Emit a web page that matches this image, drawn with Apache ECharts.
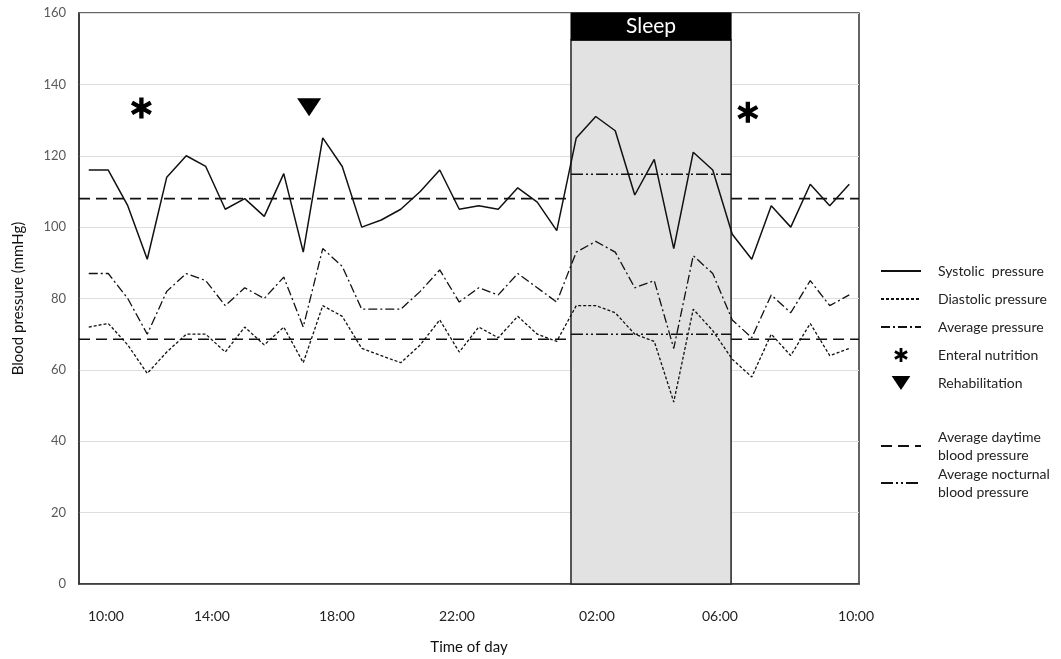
<!DOCTYPE html>
<html><head><meta charset="utf-8">
<script src="https://cdn.jsdelivr.net/npm/echarts@6/dist/echarts.min.js"></script>
<style>html,body{margin:0;padding:0;background:#fff}#c{width:1061px;height:659px}</style>
</head><body><div id="c"></div>
<script>
// ---- data ----
const systolic  = [116,116,106,91,114,120,117,105,108,103, 115,93,125,117,100,102,105,110,116,105, 106,105,111,107,99,125,131,127,109,119, 94,121,116,98,91,106,100,112,106,112];
const diastolic = [72,73,67,59,65,70,70,65,72,67, 72,62,78,75,66,64,62,67,74,65, 72,69,75,70,68,78,78,76,70,68, 51,77,71,63,58,70,64,73,64,66];
const average   = [87,87,80,70,82,87,85,78,83,80, 86,72,94,89,77,77,77,82,88,79, 83,81,87,83,79,93,96,93,83,85, 66,92,87,74,69,81,76,85,78,81];
const tickLabels    = ['10:00','14:00','18:00','22:00','02:00','06:00','10:00'];
const tickPositions = [0.88, 6.32, 12.73, 18.88, 26.06, 32.37, 39.35];
const sleepStart = 24.73, sleepEnd = 32.94;
const sleepHeaderFrom = 152.4;
const daySys = 108, dayDia = 68.6;
const nightSys = 114.8, nightDia = 70;
const enteral = [[2.7, 133.4], [33.8, 132.2]];
const rehab = [[11.3, 133.6]];
const xMin = -0.5, xMax = 39.5;

const FONT = 'Lato';
const asterisk = 'path://M-2,-10 L2,-10 L2,10 L-2,10 Z M7.66,-6.73 L9.66,-3.27 L-7.66,6.73 L-9.66,3.27 Z M9.66,3.27 L7.66,6.73 L-9.66,-3.27 L-7.66,-6.73 Z';
const triDown = 'path://M0,0 L12,0 L6,9 Z';

const NAME_SYS = 'Systolic  pressure';
const NAME_DIA = 'Diastolic pressure';
const NAME_AVG = 'Average pressure';
const NAME_ENT = 'Enteral nutrition';
const NAME_REH = 'Rehabilitation';
const NAME_DAY = 'Average daytime\nblood pressure';
const NAME_NIGHT = 'Average nocturnal\nblood pressure';

const toXY = arr => arr.map((v, i) => [i, v]);
const seg = (x0, x1, v) => [[x0, v], [x1, v]];

const dayStyle = {color: '#111', width: 1.6, type: [11, 6]};
const nightStyle = {color: '#111', width: 1.4, type: [12, 3, 2, 3, 2, 3]};

function refLine(name, data, style) {
  return {name, type: 'line', data, symbol: 'none', lineStyle: style, itemStyle: {color: '#111'}, z: 3, silent: true};
}
const noSym = {opacity: 0};

const option = {
  animation: false,
  backgroundColor: '#fff',
  textStyle: {fontFamily: FONT},
  grid: {left: 79, right: 202, top: 13, bottom: 75, outerBoundsMode: 'none', containLabel: false,
         show: true, borderColor: '#333', borderWidth: 1.5, backgroundColor: 'transparent'},
  xAxis: {
    type: 'value', min: xMin, max: xMax,
    name: 'Time of day', nameLocation: 'middle', nameGap: 56,
    nameTextStyle: {fontSize: 15, color: '#111', fontFamily: FONT},
    axisLine: {show: true, onZero: false, lineStyle: {color: '#333', width: 1.5}},
    axisTick: {show: false},
    splitLine: {show: false},
    axisLabel: {
      customValues: tickPositions, margin: 25, fontSize: 14, color: '#222', fontFamily: FONT,
      formatter: (v) => { const i = tickPositions.indexOf(v); return i >= 0 ? tickLabels[i] : ''; }
    }
  },
  yAxis: {
    type: 'value', min: 0, max: 160, interval: 20,
    name: 'Blood pressure (mmHg)', nameLocation: 'middle', nameGap: 53,
    nameTextStyle: {fontSize: 15, color: '#111', fontFamily: FONT},
    axisLine: {show: true, onZero: false, lineStyle: {color: '#333', width: 1.5}},
    axisTick: {show: false},
    splitLine: {lineStyle: {color: '#dedede', width: 1}},
    axisLabel: {fontSize: 13, color: '#595959', margin: 13, fontFamily: FONT}
  },
  legend: [
    {
      orient: 'vertical', left: 880, top: 264, padding: 0, itemWidth: 40, itemHeight: 14, itemGap: 14,
      symbolKeepAspect: true,
      textStyle: {fontSize: 14, color: '#222', fontFamily: FONT, padding: [0, 0, 0, 12]},
      data: [
        {name: NAME_SYS, itemStyle: noSym}, {name: NAME_DIA, itemStyle: noSym}, {name: NAME_AVG, itemStyle: noSym},
        {name: NAME_ENT, icon: asterisk}, {name: NAME_REH, icon: triDown}
      ]
    },
    {
      orient: 'vertical', left: 880, top: 428, padding: 0, itemWidth: 40, itemHeight: 14, itemGap: 1,
      textStyle: {fontSize: 14, color: '#222', fontFamily: FONT, lineHeight: 18, padding: [0, 0, 0, 12]},
      data: [{name: NAME_DAY, itemStyle: noSym}, {name: NAME_NIGHT, itemStyle: noSym}]
    }
  ],
  series: [
    {
      name: 'sleepBand', type: 'line', data: [[sleepStart, 0]], symbol: 'none', z: 1, silent: true,
      lineStyle: {opacity: 0},
      markArea: {
        silent: true,
        data: [
          [{xAxis: sleepStart, yAxis: 0, itemStyle: {color: '#e3e2e3', borderColor: '#222', borderWidth: 1.5}},
           {xAxis: sleepEnd, yAxis: sleepHeaderFrom}],
          [{xAxis: sleepStart, yAxis: sleepHeaderFrom, name: 'Sleep', itemStyle: {color: '#000', borderColor: '#000', borderWidth: 1},
            label: {show: true, position: 'inside', color: '#fff', fontSize: 21, fontFamily: FONT}},
           {xAxis: sleepEnd, yAxis: 160}]
        ]
      }
    },
    {name: NAME_SYS, type: 'line', data: toXY(systolic), symbol: 'none', z: 4,
     lineStyle: {color: '#111', width: 1.5}, itemStyle: {color: '#111'}},
    {name: NAME_DIA, type: 'line', data: toXY(diastolic), symbol: 'none', z: 4,
     lineStyle: {color: '#111', width: 1.3, type: [3, 2]}, itemStyle: {color: '#111'}},
    {name: NAME_AVG, type: 'line', data: toXY(average), symbol: 'none', z: 4,
     lineStyle: {color: '#111', width: 1.3, type: [9, 3, 2, 3]}, itemStyle: {color: '#111'}},
    refLine(NAME_DAY, seg(xMin, sleepStart, daySys), dayStyle),
    refLine(NAME_DAY, seg(sleepEnd, xMax, daySys), dayStyle),
    refLine(NAME_DAY, seg(xMin, sleepStart, dayDia), dayStyle),
    refLine(NAME_DAY, seg(sleepEnd, xMax, dayDia), dayStyle),
    refLine(NAME_NIGHT, seg(sleepStart, sleepEnd, nightSys), nightStyle),
    refLine(NAME_NIGHT, seg(sleepStart, sleepEnd, nightDia), nightStyle),
    {name: NAME_ENT, type: 'scatter', data: enteral, symbol: asterisk, symbolSize: 21, z: 5,
     itemStyle: {color: '#000', opacity: 1}},
    {name: NAME_REH, type: 'scatter', data: rehab, symbol: triDown, symbolSize: [24, 18], z: 5,
     itemStyle: {color: '#000', opacity: 1}}
  ]
};

const chart = echarts.init(document.getElementById('c'), null, {renderer: 'canvas'});
chart.setOption(option);
</script>
</body></html>
